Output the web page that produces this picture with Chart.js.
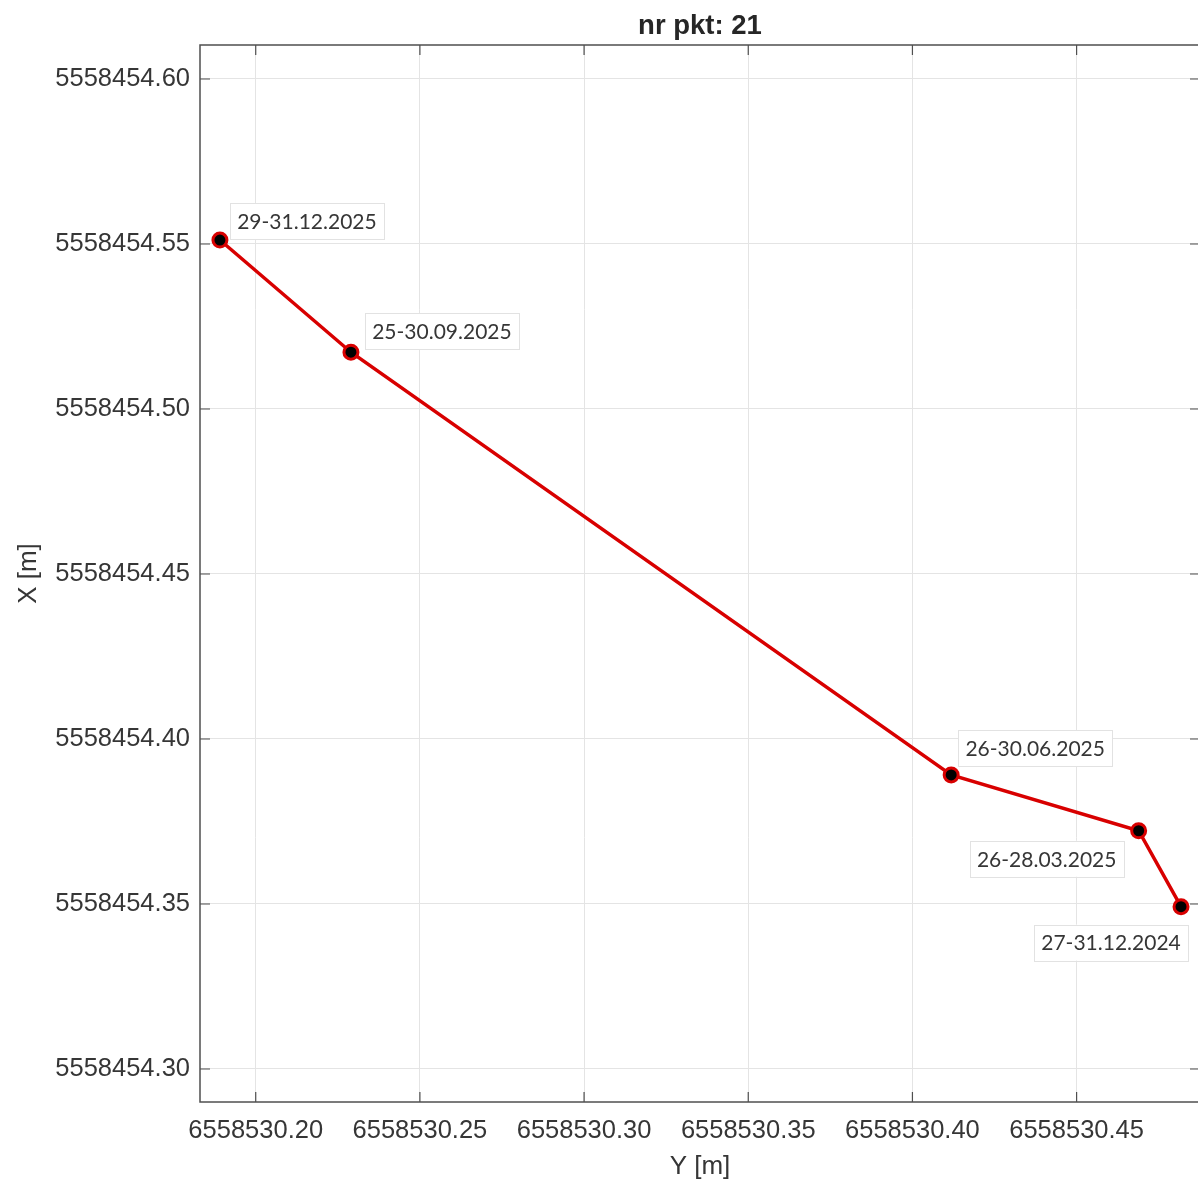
<!DOCTYPE html>
<html>
<head>
<meta charset="utf-8">
<title>nr pkt: 21</title>
<script src="https://cdn.jsdelivr.net/npm/chart.js@4.4.1/dist/chart.umd.min.js"></script>
<style>
  html, body { margin: 0; padding: 0; background: #ffffff; overflow: hidden; }
  #wrap { position: relative; width: 1210px; height: 1183px; }
</style>
</head>
<body>
<div id="wrap"><canvas id="chart"></canvas></div>
<script>
// Survey epochs of point 21 (chronological)
const epochs = ['27-31.12.2024', '26-28.03.2025', '26-30.06.2025', '25-30.09.2025', '29-31.12.2025'];
// Easting "Y [m]" and northing "X [m]" of each epoch
const eastingY = [6558530.4818, 6558530.4689, 6558530.4118, 6558530.2290, 6558530.1891];
const northingX = [5558454.3492, 5558454.3722, 5558454.3891, 5558454.5172, 5558454.5512];

// Axis ticks
const yTickValues = [6558530.20, 6558530.25, 6558530.30, 6558530.35, 6558530.40, 6558530.45];
const xTickValues = [5558454.30, 5558454.35, 5558454.40, 5558454.45, 5558454.50, 5558454.55, 5558454.60];

// Axis window (equal scaling on both axes)
const eastRange = [6558530.18303, 6558530.48758];
const northRange = [5558454.29000, 5558454.61030];

// Label box placement relative to each marker, in pixels (centre offset)
const labelOffsets = [[-70, 36], [-92, 28], [84, -27], [91, -21], [87, -19]];

const AXIS_COLOR = '#4f4f4f';
const TEXT_COLOR = '#363636';
const TICK_LEN = 10;

const points = eastingY.map((e, i) => ({ x: e, y: northingX[i] }));

const boxAxes = {
  id: 'boxAxes',
  beforeDatasetsDraw(chart) {
    const { ctx, chartArea: a, scales } = chart;
    ctx.save();
    ctx.strokeStyle = AXIS_COLOR;
    ctx.lineWidth = 1.5;
    ctx.strokeRect(a.left, a.top, a.right - a.left, a.bottom - a.top);
    ctx.lineWidth = 1.2;
    ctx.beginPath();
    yTickValues.forEach(v => {
      const px = scales.x.getPixelForValue(v);
      ctx.moveTo(px, a.bottom); ctx.lineTo(px, a.bottom - TICK_LEN);
      ctx.moveTo(px, a.top); ctx.lineTo(px, a.top + TICK_LEN);
    });
    xTickValues.forEach(v => {
      const py = scales.y.getPixelForValue(v);
      ctx.moveTo(a.left, py); ctx.lineTo(a.left + TICK_LEN, py);
      ctx.moveTo(a.right, py); ctx.lineTo(a.right - TICK_LEN, py);
    });
    ctx.stroke();
    ctx.restore();
  }
};

const epochLabels = {
  id: 'epochLabels',
  afterDatasetsDraw(chart) {
    const { ctx } = chart;
    const meta = chart.getDatasetMeta(0);
    ctx.save();
    ctx.font = '21px Lato, "Open Sans", sans-serif';
    ctx.textAlign = 'center';
    ctx.textBaseline = 'middle';
    meta.data.forEach((el, i) => {
      const cx = el.x + labelOffsets[i][0];
      const cy = el.y + labelOffsets[i][1];
      const w = ctx.measureText(epochs[i]).width + 14;
      const h = 36;
      ctx.fillStyle = '#ffffff';
      ctx.fillRect(cx - w / 2, cy - h / 2, w, h);
      ctx.strokeStyle = '#e2e2e2';
      ctx.lineWidth = 1;
      ctx.strokeRect(Math.round(cx - w / 2) + 0.5, Math.round(cy - h / 2) + 0.5, Math.round(w), h);
      ctx.fillStyle = TEXT_COLOR;
      ctx.fillText(epochs[i], cx, cy + 1);
    });
    ctx.restore();
  }
};

new Chart(document.getElementById('chart'), {
  type: 'scatter',
  data: {
    datasets: [{
      data: points,
      showLine: true,
      borderColor: '#d80000',
      borderWidth: 3.5,
      pointRadius: 7,
      pointBorderWidth: 3,
      pointBackgroundColor: '#000000',
      pointBorderColor: '#d80000',
      clip: false
    }]
  },
  options: {
    responsive: true,
    maintainAspectRatio: false,
    animation: false,
    layout: { padding: { left: 0, right: 5, top: 0, bottom: 0 } },
    plugins: {
      legend: { display: false },
      tooltip: { enabled: false },
      title: {
        display: true,
        text: 'nr pkt: 21',
        fullSize: false,
        color: '#262626',
        font: { family: '"Liberation Sans", Arial, sans-serif', size: 27.5, weight: 'bold', lineHeight: 1.2 },
        padding: { top: 10, bottom: 2 }
      }
    },
    scales: {
      x: {
        type: 'linear',
        min: eastRange[0],
        max: eastRange[1],
        afterBuildTicks: s => { s.ticks = yTickValues.map(v => ({ value: v })); },
        afterFit: s => { s.height = 81; },
        grid: { color: '#e4e4e4', lineWidth: 1, drawTicks: false },
        border: { display: false },
        ticks: {
          padding: 14,
          color: TEXT_COLOR,
          maxRotation: 0,
          autoSkip: false,
          font: { family: '"Liberation Sans", Arial, sans-serif', size: 25.5 },
          callback: v => Number(v).toFixed(2)
        },
        title: {
          display: true,
          text: 'Y [m]',
          color: TEXT_COLOR,
          font: { family: '"Liberation Sans", Arial, sans-serif', size: 26, lineHeight: 1.2 },
          padding: { top: 0, bottom: 1 }
        }
      },
      y: {
        type: 'linear',
        min: northRange[0],
        max: northRange[1],
        afterBuildTicks: s => { s.ticks = xTickValues.map(v => ({ value: v })); },
        afterFit: s => { s.width = 200; },
        grid: { color: '#e4e4e4', lineWidth: 1, drawTicks: false },
        border: { display: false },
        ticks: {
          padding: 10,
          color: TEXT_COLOR,
          autoSkip: false,
          font: { family: '"Liberation Sans", Arial, sans-serif', size: 25.5 },
          callback: v => Number(v).toFixed(2)
        },
        title: {
          display: true,
          text: 'X [m]',
          color: TEXT_COLOR,
          font: { family: '"Liberation Sans", Arial, sans-serif', size: 26, lineHeight: 1.2 },
          padding: { top: 13, bottom: 0 }
        }
      }
    }
  },
  plugins: [boxAxes, epochLabels]
});
</script>
</body>
</html>
